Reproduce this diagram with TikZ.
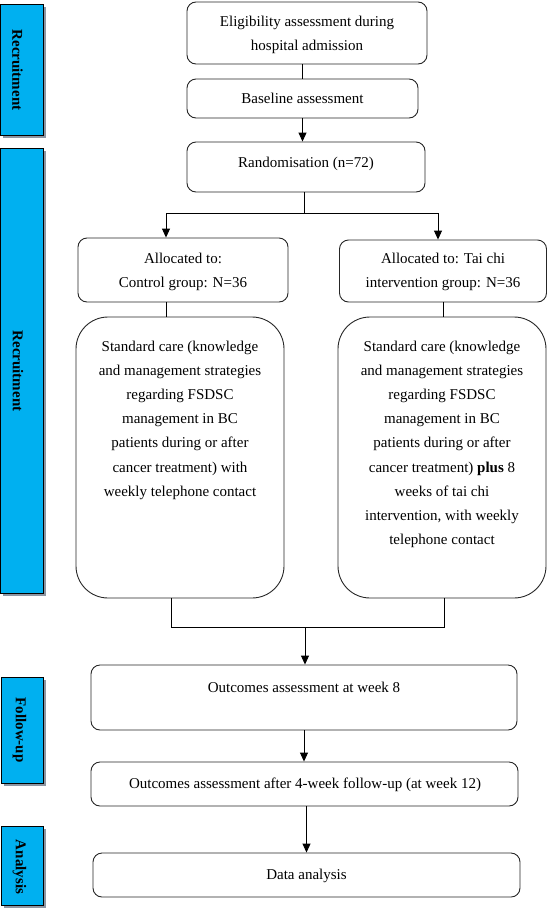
\documentclass[tikz,border=0pt]{standalone}
\usepackage{fontspec}
\setmainfont{Liberation Serif}
\usetikzlibrary{arrows.meta,shadows}
\definecolor{barblue}{HTML}{00B0F0}
\definecolor{shadowgray}{HTML}{8C96A3}
\begin{document}
\begin{tikzpicture}[x=1pt,y=-1pt,
  box/.style={draw=black!85, line width=0.9pt, rounded corners=9pt, inner sep=0pt, align=center, font=\fontsize{15}{24}\selectfont},
  bigbox/.style={box, rounded corners=32pt},
  txt/.style={inner sep=0pt, align=center, font=\fontsize{15}{24.2}\selectfont},
  bar/.style={draw=black, line width=0.9pt, fill=barblue, inner sep=0pt, drop shadow={shadow xshift=2.5pt, shadow yshift=-2.5pt, fill=shadowgray, opacity=1}},
  bartxt/.style={rotate=-90, inner sep=0pt, font=\fontsize{15}{18}\selectfont\bfseries},
  conn/.style={draw=black, line width=0.9pt},
  arr/.style={conn, -{Triangle[width=8pt,length=9pt]}}
]
\useasboundingbox (0,0) rectangle (548,908);

% side bars
\node[bar, minimum width=43pt, minimum height=131pt] (bar1) at (21.5,69.5) {};
\node[bartxt] (bar1t) at (17.5,70) {Recruitment};
\node[bar, minimum width=43pt, minimum height=445pt] (bar2) at (21.5,370.5) {};
\node[bartxt] (bar2t) at (18,371) {Recruitment};
\node[bar, minimum width=42pt, minimum height=106pt] (bar3) at (22,730) {};
\node[bartxt] (bar3t) at (19.5,730) {Follow-up};
\node[bar, minimum width=42pt, minimum height=79pt] (bar4) at (22,865.5) {};
\node[bartxt] (bar4t) at (19.5,867) {Analysis};

% main boxes
\node[box, minimum width=240pt, minimum height=62pt] (elig) at (307,33) {};
\node[txt] (eligt) at (307,34.5) {Eligibility assessment during\\hospital admission};
\node[box, minimum width=231pt, minimum height=39pt] (base) at (302.5,98.5) {Baseline assessment};
\node[box, minimum width=238pt, minimum height=50pt] (rand) at (306,167) {};
\node[txt] (randt) at (306,163.5) {Randomisation (n=72)};
\node[box, minimum width=210pt, minimum height=64pt] (alL) at (183,270) {};
\node[txt] (alLt) at (183,272) {Allocated to:\\Control group: N=36};
\node[box, minimum width=207pt, minimum height=62pt] (alR) at (443,271) {};
\node[txt] (alRt) at (443,272) {Allocated to: Tai chi\\intervention group: N=36};

\node[bigbox, minimum width=208pt, minimum height=281pt] (careL) at (180,457.5) {};
\node[txt, anchor=north] (careLt) at (180,340.5) {Standard care (knowledge\\and management strategies\\regarding FSDSC\\management in BC\\patients during or after\\cancer treatment) with\\weekly telephone contact};
\node[bigbox, minimum width=208pt, minimum height=281pt] (careR) at (442,457.5) {};
\node[txt, anchor=north] (careRt) at (442,340.5) {Standard care (knowledge\\and management strategies\\regarding FSDSC\\management in BC\\patients during or after\\cancer treatment) \textbf{plus} 8\\weeks of tai chi\\intervention, with weekly\\telephone contact};

\node[box, minimum width=426pt, minimum height=65pt] (wk8) at (304,697.5) {};
\node[txt] (wk8t) at (304,687) {Outcomes assessment at week 8};
\node[box, minimum width=427pt, minimum height=44pt] (wk12) at (304.5,784) {};
\node[txt] (wk12t) at (305,784.5) {Outcomes assessment after 4-week follow-up (at week 12)};
\node[box, minimum width=427pt, minimum height=44pt] (data) at (306.5,875) {};
\node[txt] (datat) at (306.5,875.5) {Data analysis};

% junction coordinates
\coordinate (jr) at (304,213);
\coordinate (jL) at (166,213);
\coordinate (jR) at (438,213);
\coordinate (jbL) at (171,627);
\coordinate (jbR) at (444,627);
\coordinate (jb) at (305,627);

% connectors
\draw[conn] (elig.south -| base.north) -- (base.north);
\draw[arr] (base.south) -- (base.south |- rand.north);
\draw[conn] (jr |- rand.south) -- (jr);
\draw[conn] (jL) -- (jR);
\draw[arr] (jL) -- (jL |- alL.north);
\draw[arr] (jR) -- (jR |- alR.north);
\draw[conn] (jL |- alL.south) -- (jL |- careL.north);
\draw[conn] (alR.south) -- (alR.south |- careR.north);
\draw[conn] (jbL |- careL.south) -- (jbL) -- (jbR) -- (jbR |- careR.south);
\draw[arr] (jb) -- (jb |- wk8.north);
\draw[arr] (wk8.south) -- (wk8.south |- wk12.north);
\draw[arr] (data.north |- wk12.south) -- (data.north);
\end{tikzpicture}
\end{document}
